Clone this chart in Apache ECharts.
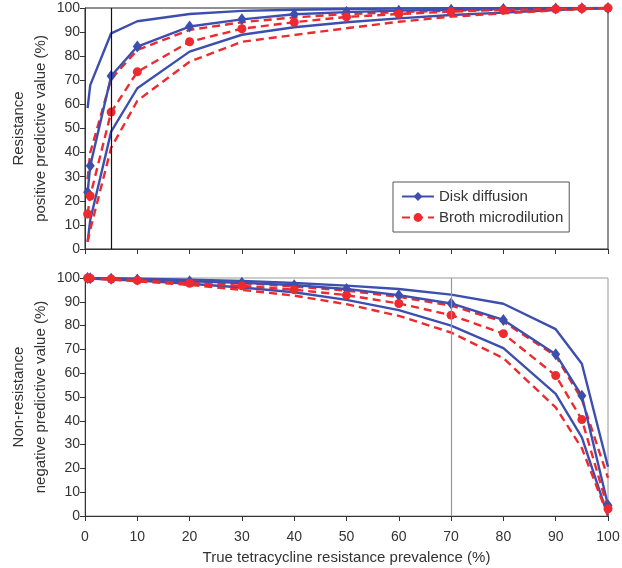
<!DOCTYPE html>
<html>
<head>
<meta charset="utf-8">
<script src="https://cdn.jsdelivr.net/npm/echarts@6/dist/echarts.min.js"></script>
<style>html,body{margin:0;padding:0;background:#fff}#c{width:622px;height:568px}</style>
</head>
<body>
<div id="c"></div>
<script>
// Prevalence (%) at which values were computed
var prevalence = [0.5, 1, 5, 10, 20, 30, 40, 50, 60, 70, 80, 90, 95, 100];
var xTicks = [0, 10, 20, 30, 40, 50, 60, 70, 80, 90, 100];
var yTicks = [0, 10, 20, 30, 40, 50, 60, 70, 80, 90, 100];

// Resistance positive predictive value (%)
var ppvDisk     = [23.5, 34.5, 71.8, 84.0, 92.3, 95.3, 97.4, 98.3, 98.9, 99.3, 99.6, 99.8, 99.9, 100];
var ppvDiskHi   = [58.5, 68.0, 89.5, 94.5, 97.5, 98.8, 99.3, 99.6, 99.8, 99.9, 99.9, 100, 100, 100];
var ppvDiskLo   = [3.0, 12.0, 48.7, 66.7, 81.9, 88.9, 92.0, 94.1, 95.7, 97.1, 98.1, 99.2, 99.6, 100];
var ppvBroth    = [14.5, 22.0, 56.8, 73.5, 86.0, 91.4, 94.1, 96.3, 97.5, 98.5, 99.2, 99.6, 99.8, 100];
var ppvBrothHi  = [29.0, 40.0, 70.5, 82.6, 90.9, 94.1, 96.1, 97.5, 98.3, 98.9, 99.4, 99.7, 99.9, 100];
var ppvBrothLo  = [3.0, 8.0, 42.0, 61.5, 77.7, 86.0, 88.8, 91.6, 94.3, 96.4, 97.8, 99.0, 99.5, 100];

// Non-resistance negative predictive value (%)
var npvDisk     = [100, 99.9, 99.7, 99.4, 98.6, 98.0, 97.0, 95.4, 92.8, 89.3, 82.4, 68.0, 50.5, 4.5];
var npvDiskHi   = [100, 100, 99.9, 99.7, 99.3, 98.8, 97.9, 96.8, 95.4, 93.0, 89.2, 78.5, 64.0, 20.7];
var npvDiskLo   = [100, 99.8, 99.4, 98.9, 97.6, 96.0, 94.0, 90.8, 86.5, 80.0, 70.5, 51.3, 33.0, 0];
var npvBroth    = [100, 99.9, 99.6, 99.0, 97.8, 96.7, 95.1, 92.8, 89.3, 84.4, 76.6, 59.0, 40.5, 3.0];
var npvBrothHi  = [100, 99.9, 99.8, 99.4, 98.5, 97.8, 96.4, 94.7, 92.1, 88.4, 81.6, 67.3, 49.0, 16.0];
var npvBrothLo  = [100, 99.8, 99.3, 98.6, 97.1, 95.0, 92.6, 89.0, 84.1, 77.1, 66.3, 45.6, 28.5, 0];

var refLineTop = 5;
var refLineBottom = 70;

var BLUE = '#3D4FAE';
var RED = '#EC2A2F';
var FONT = '"Liberation Sans", Arial, Helvetica, sans-serif';

function pts(ys) { return prevalence.map(function (x, i) { return [x, ys[i]]; }); }

function xAxisCfg(gridIndex, showLabels) {
  return {
    type: 'value', gridIndex: gridIndex, min: xTicks[0], max: xTicks[xTicks.length - 1], interval: 10,
    axisLine: { lineStyle: { color: '#333', width: 1 } },
    axisTick: { show: true, length: 5, inside: false, lineStyle: { color: '#333' } },
    axisLabel: { show: showLabels, fontSize: 14, color: '#333', fontFamily: FONT, margin: 14 },
    splitLine: { show: false },
    name: showLabels ? 'True tetracycline resistance prevalence (%)' : '',
    nameLocation: 'middle', nameGap: 34, nameMoveOverlap: false,
    nameTextStyle: { fontSize: 15, color: '#333', fontFamily: FONT }
  };
}
function yAxisCfg(gridIndex, name) {
  return {
    type: 'value', gridIndex: gridIndex, min: yTicks[0], max: yTicks[yTicks.length - 1], interval: 10,
    axisLine: { show: true, lineStyle: { color: '#333', width: 1 } },
    axisTick: { show: true, length: 5, lineStyle: { color: '#333' } },
    axisLabel: { fontSize: 14, color: '#333', fontFamily: FONT, margin: 5 },
    splitLine: { show: false },
    name: name, nameLocation: 'middle', nameGap: 33, nameMoveOverlap: false,
    nameTextStyle: { fontSize: 15, color: '#333', fontFamily: FONT, lineHeight: 22 }
  };
}
function ci(name, data, color, dashed, xi) {
  return {
    name: name, type: 'line', xAxisIndex: xi, yAxisIndex: xi, data: pts(data),
    showSymbol: false, symbol: 'none', silent: true,
    lineStyle: { color: color, width: 2.4, type: dashed ? [8, 5] : 'solid' },
    itemStyle: { color: color }, z: 2
  };
}
function est(name, data, color, dashed, xi, symbol, size, mark, markColor) {
  var s = {
    name: name, type: 'line', xAxisIndex: xi, yAxisIndex: xi, data: pts(data),
    symbol: symbol, symbolSize: size, showAllSymbol: true,
    lineStyle: { color: color, width: 2.4, type: dashed ? [8, 5] : 'solid' },
    itemStyle: { color: color }, z: 3
  };
  if (mark !== undefined) {
    s.markLine = {
      silent: true, symbol: 'none', label: { show: false },
      lineStyle: { color: markColor, width: 1.2, type: 'solid' },
      data: [{ xAxis: mark }]
    };
  }
  return s;
}

var chart = echarts.init(document.getElementById('c'), null, { renderer: 'canvas' });
chart.setOption({
  animation: false,
  backgroundColor: '#fff',
  textStyle: { fontFamily: FONT },
  grid: [
    { left: 85, right: 14, top: 8, height: 241, show: true, borderColor: '#222', borderWidth: 1, backgroundColor: 'transparent', containLabel: false, outerBoundsMode: 'none' },
    { left: 85, right: 14, top: 278, height: 238, show: true, borderColor: '#999', borderWidth: 1, backgroundColor: 'transparent', containLabel: false, outerBoundsMode: 'none' }
  ],
  legend: {
    data: ['Disk diffusion', 'Broth microdilution'],
    orient: 'vertical', left: 393, top: 182,
    backgroundColor: '#fff', borderColor: '#555', borderWidth: 1,
    padding: [7, 6, 7, 8], itemGap: 6, itemWidth: 32, itemHeight: 11,
    textStyle: { fontSize: 15, color: '#333', fontFamily: FONT }
  },
  xAxis: [xAxisCfg(0, false), xAxisCfg(1, true)],
  yAxis: [
    yAxisCfg(0, 'Resistance\npositive predictive value (%)'),
    yAxisCfg(1, 'Non-resistance\nnegative predictive value (%)')
  ],
  series: [
    ci('Disk upper PPV', ppvDiskHi, BLUE, false, 0),
    ci('Disk lower PPV', ppvDiskLo, BLUE, false, 0),
    ci('Broth upper PPV', ppvBrothHi, RED, true, 0),
    ci('Broth lower PPV', ppvBrothLo, RED, true, 0),
    est('Disk diffusion', ppvDisk, BLUE, false, 0, 'diamond', [9, 12], refLineTop, '#111'),
    est('Broth microdilution', ppvBroth, RED, true, 0, 'circle', 9),
    ci('Disk upper NPV', npvDiskHi, BLUE, false, 1),
    ci('Disk lower NPV', npvDiskLo, BLUE, false, 1),
    ci('Broth upper NPV', npvBrothHi, RED, true, 1),
    ci('Broth lower NPV', npvBrothLo, RED, true, 1),
    est('Disk diffusion', npvDisk, BLUE, false, 1, 'diamond', [9, 12], refLineBottom, '#999'),
    est('Broth microdilution', npvBroth, RED, true, 1, 'circle', 9)
  ]
});
</script>
</body>
</html>
